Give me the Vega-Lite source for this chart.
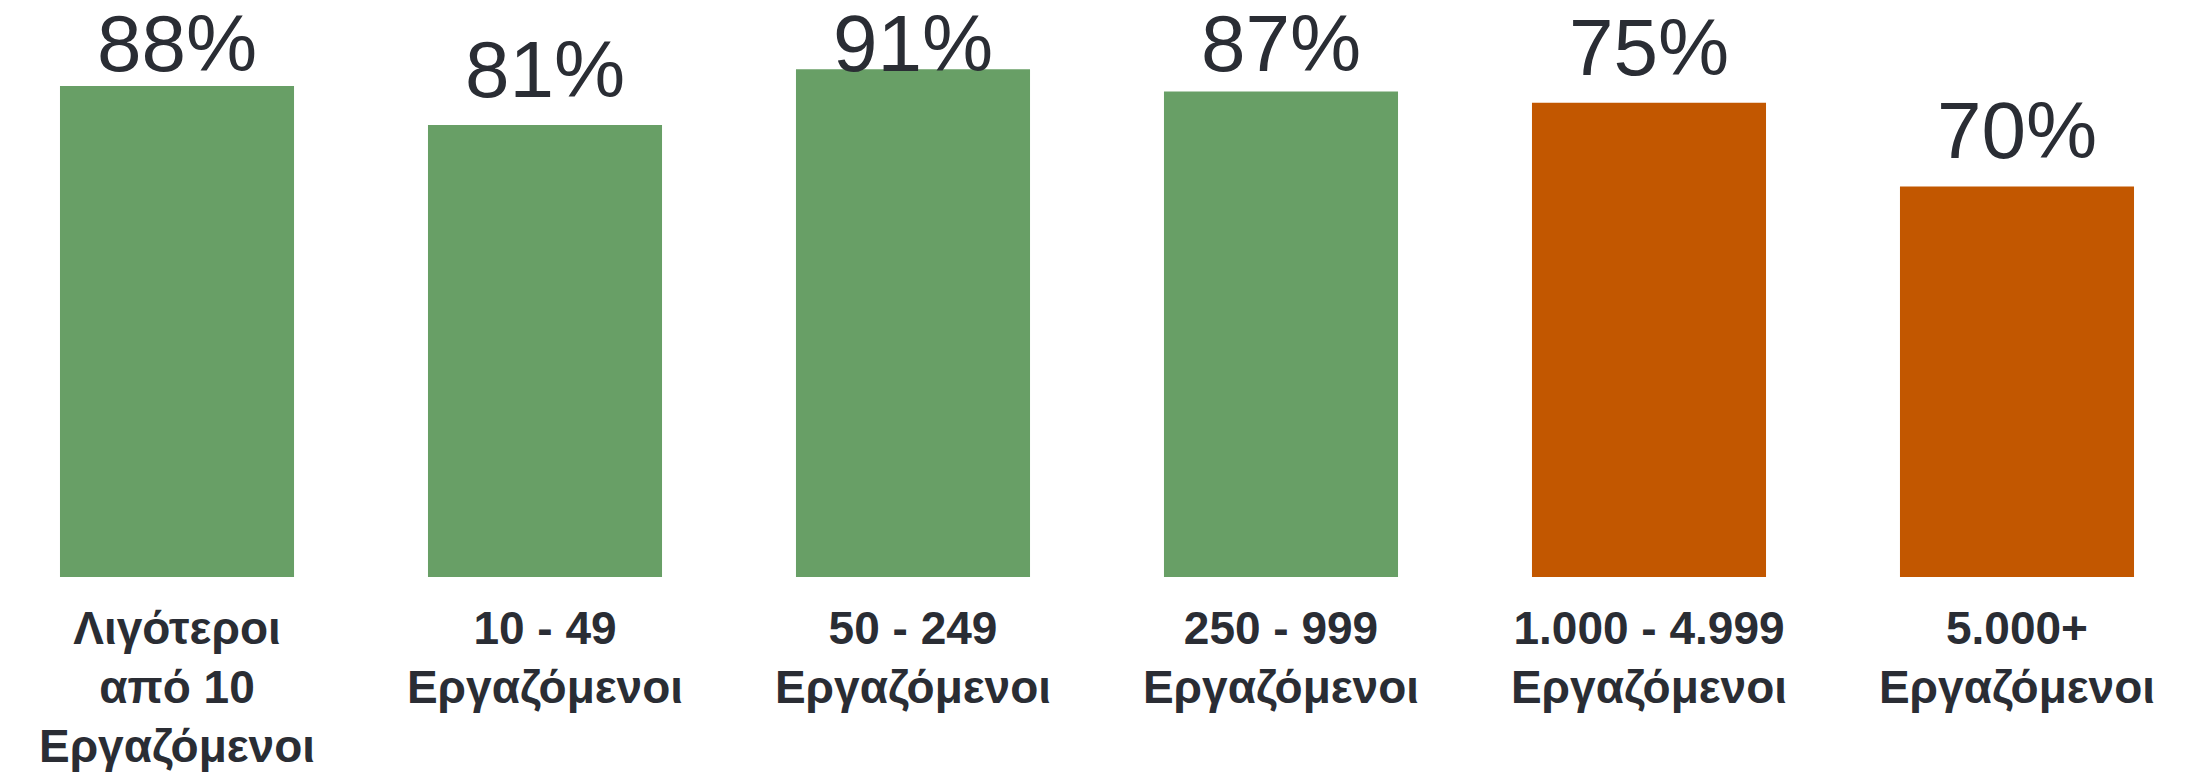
{
  "$schema": "https://vega.github.io/schema/vega-lite/v6.json",
  "width": 2194,
  "height": 558,
  "autosize": "none",
  "padding": {"top": 19, "left": 0, "right": 4, "bottom": 203},
  "background": "white",
  "config": {"view": {"stroke": null}},
  "data": {
    "values": [
      {"category": "Λιγότεροι|από 10|Εργαζόμενοι", "value": 88, "label": "88%", "group": "small"},
      {"category": "10 - 49|Εργαζόμενοι", "value": 81, "label": "81%", "group": "small"},
      {"category": "50 - 249|Εργαζόμενοι", "value": 91, "label": "91%", "group": "small"},
      {"category": "250 - 999|Εργαζόμενοι", "value": 87, "label": "87%", "group": "small"},
      {"category": "1.000 - 4.999|Εργαζόμενοι", "value": 85, "label": "75%", "group": "large"},
      {"category": "5.000+|Εργαζόμενοι", "value": 70, "label": "70%", "group": "large"}
    ]
  },
  "encoding": {
    "x": {
      "field": "category",
      "type": "nominal",
      "sort": null,
      "scale": {"paddingInner": 0.364, "paddingOuter": 0.163},
      "axis": {
        "title": null,
        "domain": false,
        "ticks": false,
        "grid": false,
        "labelAngle": 0,
        "labelExpr": "split(datum.value, '|')",
        "labelFont": "Liberation Sans",
        "labelFontWeight": "bold",
        "labelFontSize": 46,
        "labelLineHeight": 59,
        "labelColor": "#2A2D34",
        "labelPadding": 30,
        "labelLimit": 0,
        "labelOverlap": false
      }
    }
  },
  "layer": [
    {
      "mark": {"type": "bar"},
      "encoding": {
        "y": {"field": "value", "type": "quantitative", "scale": {"domain": [0, 100]}, "axis": null},
        "color": {
          "field": "group",
          "type": "nominal",
          "scale": {"domain": ["small", "large"], "range": ["#689F66", "#C25700"]},
          "legend": null
        }
      }
    },
    {
      "mark": {
        "type": "text",
        "font": "Liberation Sans",
        "fontSize": 80,
        "color": "#2A2D34",
        "baseline": "alphabetic",
        "align": "center",
        "dy": -28
      },
      "encoding": {
        "y": {
          "field": "value",
          "type": "quantitative",
          "scale": {"domain": [0, 85.7], "range": [558, 79.8], "clamp": true, "zero": true},
          "axis": null
        },
        "text": {"field": "label"}
      }
    }
  ],
  "resolve": {"scale": {"y": "independent"}}
}
